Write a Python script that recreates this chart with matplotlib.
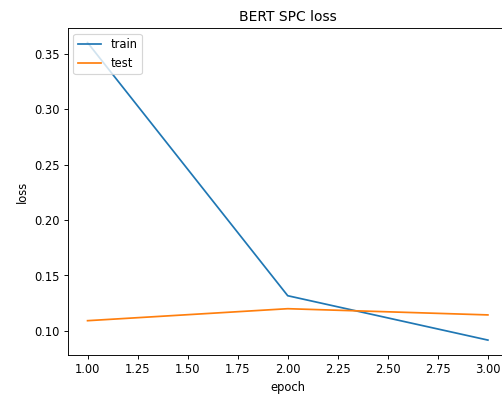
import matplotlib; matplotlib.use("Agg")
import matplotlib.pyplot as plt

epochs = [1, 2, 3]
train_loss = [0.3599, 0.1317, 0.0917]
test_loss = [0.1092, 0.1200, 0.1144]

fig = plt.figure(figsize=(6.05, 4.75), dpi=83)
ax = fig.add_axes([0.1345, 0.099, 0.877, 0.830])
ax.plot(epochs, train_loss, label="train")
ax.plot(epochs, test_loss, label="test")
ax.set_title("BERT SPC loss")
ax.set_xlabel("epoch")
ax.set_ylabel("loss")
ax.legend(loc="upper left")
fig.savefig("out.png", dpi=83)
